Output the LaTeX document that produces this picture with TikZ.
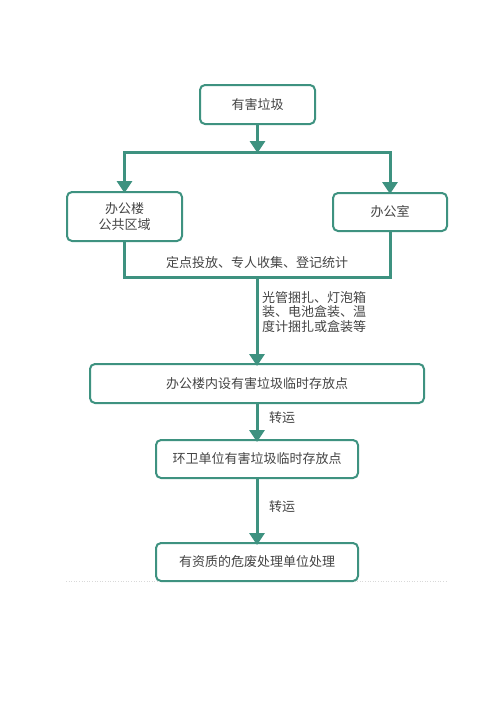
\documentclass[tikz,border=0pt]{standalone}
\usepackage{fontspec}
\setmainfont{Noto Sans CJK SC}
\usetikzlibrary{arrows.meta,positioning}
\definecolor{flowgreen}{HTML}{3E9280}
\definecolor{textgray}{HTML}{444444}
\tikzset{
    box/.style={draw=flowgreen, line width=2pt, rounded corners=5pt,
        fill=white, text=textgray, inner sep=0pt, align=center,
        font=\fontsize{13}{15.5}\selectfont},
    flow/.style={draw=flowgreen, line width=3pt},
    flowarrow/.style={flow, -{Triangle[width=15pt,length=12pt]}},
    note/.style={text=textgray, inner sep=0pt, font=\fontsize{13}{14.6}\selectfont}
}
\begin{document}
\begin{tikzpicture}[x=1pt, y=-1pt]
    \useasboundingbox (0, 0) rectangle (500, 707);

    % faint baseline under the chart
    \draw[gray!30, dotted, line width=0.6pt] (66, 581) -- (448, 581);

    \node[box, minimum width=115pt, minimum height=39pt] (hazard) at (257.5, 104.5) {有害垃圾};
    \node[box, minimum width=115pt, minimum height=49pt] (publicArea) at (124.5, 216.5) {办公楼\\公共区域};
    \node[box, minimum width=114pt, minimum height=38pt] (office) at (390, 212) {办公室};
    \node[box, minimum width=334pt, minimum height=39pt] (buildingPoint) at (257, 383.5) {办公楼内设有害垃圾临时存放点};
    \node[box, minimum width=202pt, minimum height=38pt] (sanitPoint) at (257, 459) {环卫单位有害垃圾临时存放点};
    \node[box, minimum width=202pt, minimum height=38pt] (disposal) at (257, 562) {有资质的危废处理单位处理};

    \coordinate (split) at (257.5, 152);
    \coordinate (splitL) at (124.5, 152);
    \coordinate (splitR) at (390, 152);
    \coordinate (joinL) at (124.5, 277);
    \coordinate (joinR) at (390, 277);
    \coordinate (join) at (257, 277);

    % split
    \draw[flowarrow] (hazard) -- ([yshift=-1pt]split);
    \draw[flow, line cap=rect] (splitL) -- (splitR);
    \draw[flowarrow] (splitL) -- ([yshift=-2pt]publicArea.north);
    \draw[flowarrow] (splitR) -- ([yshift=-2pt]office.north);

    % join
    \draw[flow, line cap=rect] (publicArea.south) -- (joinL) -- (joinR) -- (office.south);
    \node[note] (collectText) at (257, 263) {定点投放、专人收集、登记统计};

    \draw[flowarrow] (join) -- ([yshift=-3pt]buildingPoint.north);
    \node[note, anchor=north west, align=left] (packText) at (262, 291) {光管捆扎、灯泡箱\\装、电池盒装、温\\度计捆扎或盒装等};

    \draw[flowarrow] (buildingPoint) -- ([yshift=-3pt]sanitPoint.north);
    \node[note, anchor=west] (moveTextA) at (269, 418) {转运};

    \draw[flowarrow] (sanitPoint) -- ([yshift=-3pt]disposal.north);
    \node[note, anchor=west] (moveTextB) at (269, 507) {转运};
\end{tikzpicture}
\end{document}
